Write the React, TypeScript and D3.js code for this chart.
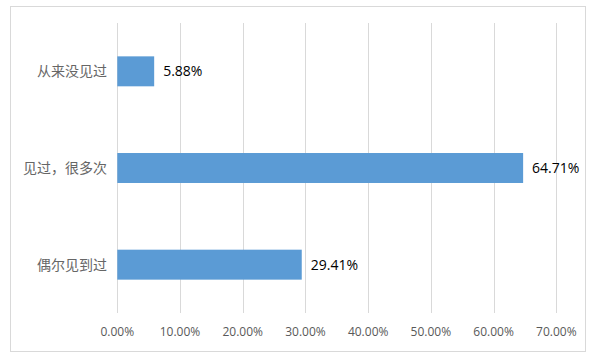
import React from "react";
import * as d3 from "d3";

const categories = ["从来没见过", "见过，很多次", "偶尔见到过"];
const values = [5.88, 64.71, 29.41];
const ticks = [0, 10, 20, 30, 40, 50, 60, 70];

const W = 596;
const H = 358;

export default function App() {
  const x = d3.scaleLinear().domain([0, 70]).range([117.3, 556.3]);
  const y = d3.scaleBand().domain(categories).range([23, 313]).paddingInner(0.69).paddingOuter(0.345);
  const fmt = (v: number) => v.toFixed(2) + "%";
  return (
    <svg width={W} height={H} style={{ position: "absolute", left: 0, top: 0, background: "#fff" }}>
      <rect x={10.5} y={6.5} width={575} height={345} fill="#fff" stroke="#d9d9d9" strokeWidth={1} />
      {ticks.map((t) => (
        <g key={t}>
          <line x1={Math.round(x(t)) + 0.5} x2={Math.round(x(t)) + 0.5} y1={23} y2={313} stroke="#d9d9d9" strokeWidth={1} />
          <text x={x(t)} y={336} textAnchor="middle" fontFamily="'Open Sans', sans-serif" fontSize={12} fill="#595959">
            {t.toFixed(2) + "%"}
          </text>
        </g>
      ))}
      {categories.map((c, i) => {
        const yy = y(c)!;
        const bw = y.bandwidth();
        return (
          <g key={c}>
            <rect x={x(0)} y={yy} width={x(values[i]) - x(0)} height={bw} fill="#5b9bd5" />
            <text x={x(values[i]) + 9} y={yy + bw / 2} dy="0.36em" fontFamily="'Open Sans', sans-serif" fontSize={14} fill="#000">
              {fmt(values[i])}
            </text>
            <text x={107} y={yy + bw / 2} dy="0.36em" textAnchor="end" fontFamily="'Noto Sans CJK SC', sans-serif" fontSize={14} fill="#666666">
              {c}
            </text>
          </g>
        );
      })}
    </svg>
  );
}
